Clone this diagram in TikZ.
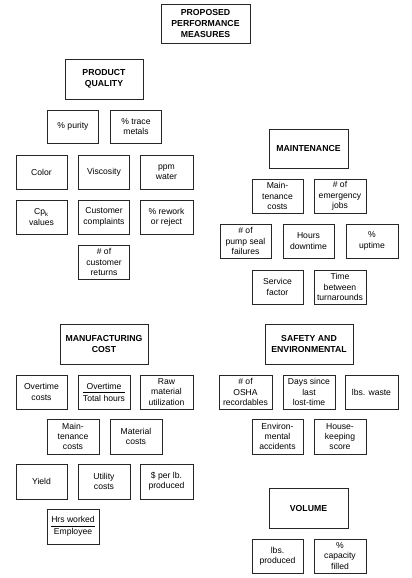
\documentclass[tikz,border=0pt]{standalone}
\usepackage{fontspec}
\setmainfont{Liberation Sans}
\begin{document}
\begin{tikzpicture}[x=1pt,y=-1pt,
  box/.style={draw=black!85,line width=0.8pt,align=center,inner sep=1pt,
    font=\fontsize{8.6}{10.4}\selectfont,minimum width=51pt,minimum height=34pt},
  head/.style={box,font=\bfseries\fontsize{8.7}{10.6}\selectfont,minimum height=40pt}]
\useasboundingbox (0,0) rectangle (412,578);
\node[head,minimum width=89pt,minimum height=39pt] (title) at (205.5,23.5) {PROPOSED\\PERFORMANCE\\MEASURES};
% Product quality
\node[head,minimum width=78pt] (pq) at (104,79) {PRODUCT\\QUALITY};
\node[box,minimum height=33pt] (purity) at (73,126.5) {\% purity};
\node[box,minimum height=33pt] (trace) at (136,126.5) {\% trace\\metals};
\node[box] (color) at (41.5,172) {Color};
\node[box] (visc) at (104,172) {Viscosity};
\node[box,minimum width=53pt] (ppm) at (166.5,172) {ppm\\water};
\node[box] (cpk) at (41.5,217) {Cp\textsubscript{k}\\values};
\node[box] (compl) at (104,217) {Customer\\complaints};
\node[box,minimum width=53pt] (rework) at (166.5,217) {\% rework\\or reject};
\node[box] (returns) at (104,262) {\# of\\customer\\returns};
% Maintenance
\node[head,minimum width=79pt,minimum height=39pt] (maint) at (308.5,148.5) {MAINTENANCE};
\node[box] (mcost) at (277.5,196) {Main-\\tenance\\costs};
\node[box,minimum width=52pt] (emerg) at (340,196) {\# of\\emergency\\jobs};
\node[box] (pump) at (245.5,241) {\# of\\pump seal\\failures};
\node[box] (hours) at (308.5,241) {Hours\\downtime};
\node[box,minimum width=52pt] (uptime) at (372,241) {\%\\uptime};
\node[box] (service) at (277.5,287) {Service\\factor};
\node[box,minimum width=52pt] (turn) at (340,287) {Time\\between\\turnarounds};
% Manufacturing cost
\node[head,minimum width=88pt] (mfg) at (104,344) {MANUFACTURING\\COST};
\node[box] (otc) at (41.5,392) {Overtime\\costs};
\node[box,minimum width=52pt] (otth) at (104,392) {$\displaystyle\frac{\mbox{Overtime}}{\mbox{Total hours}}$};
\node[box,minimum width=53pt] (raw) at (166.5,392) {Raw\\material\\utilization};
\node[box,minimum width=52pt,minimum height=35pt] (mcost2) at (73,436.5) {Main-\\tenance\\costs};
\node[box,minimum width=52pt,minimum height=35pt] (matc) at (136,436.5) {Material\\costs};
\node[box,minimum height=35pt] (yield) at (41.5,481.5) {Yield};
\node[box,minimum width=52pt,minimum height=35pt] (util) at (104,481.5) {Utility\\costs};
\node[box,minimum width=53pt,minimum height=35pt] (perlb) at (166.5,481.5) {\$ per lb.\\produced};
\node[box,minimum width=52pt,minimum height=35pt] (hrs) at (73,526.5) {$\displaystyle\frac{\mbox{Hrs worked}}{\mbox{Employee}}$};
% Safety
\node[head,minimum width=88pt] (safety) at (309,344) {SAFETY AND\\ENVIRONMENTAL};
\node[box,minimum width=53pt] (osha) at (245.5,392) {\# of\\OSHA\\recordables};
\node[box,minimum width=52pt] (days) at (309,392) {Days since\\last\\lost-time};
\node[box,minimum width=53pt] (waste) at (371.5,392) {lbs. waste};
\node[box,minimum height=35pt] (env) at (277.5,436.5) {Environ-\\mental\\accidents};
\node[box,minimum width=52pt,minimum height=35pt] (house) at (340,436.5) {House-\\keeping\\score};
% Volume
\node[head,minimum width=79pt] (vol) at (308.5,508) {VOLUME};
\node[box] (lbsp) at (277.5,556) {lbs.\\produced};
\node[box,minimum width=52pt] (cap) at (340,556) {\%\\capacity\\filled};
\end{tikzpicture}
\end{document}
